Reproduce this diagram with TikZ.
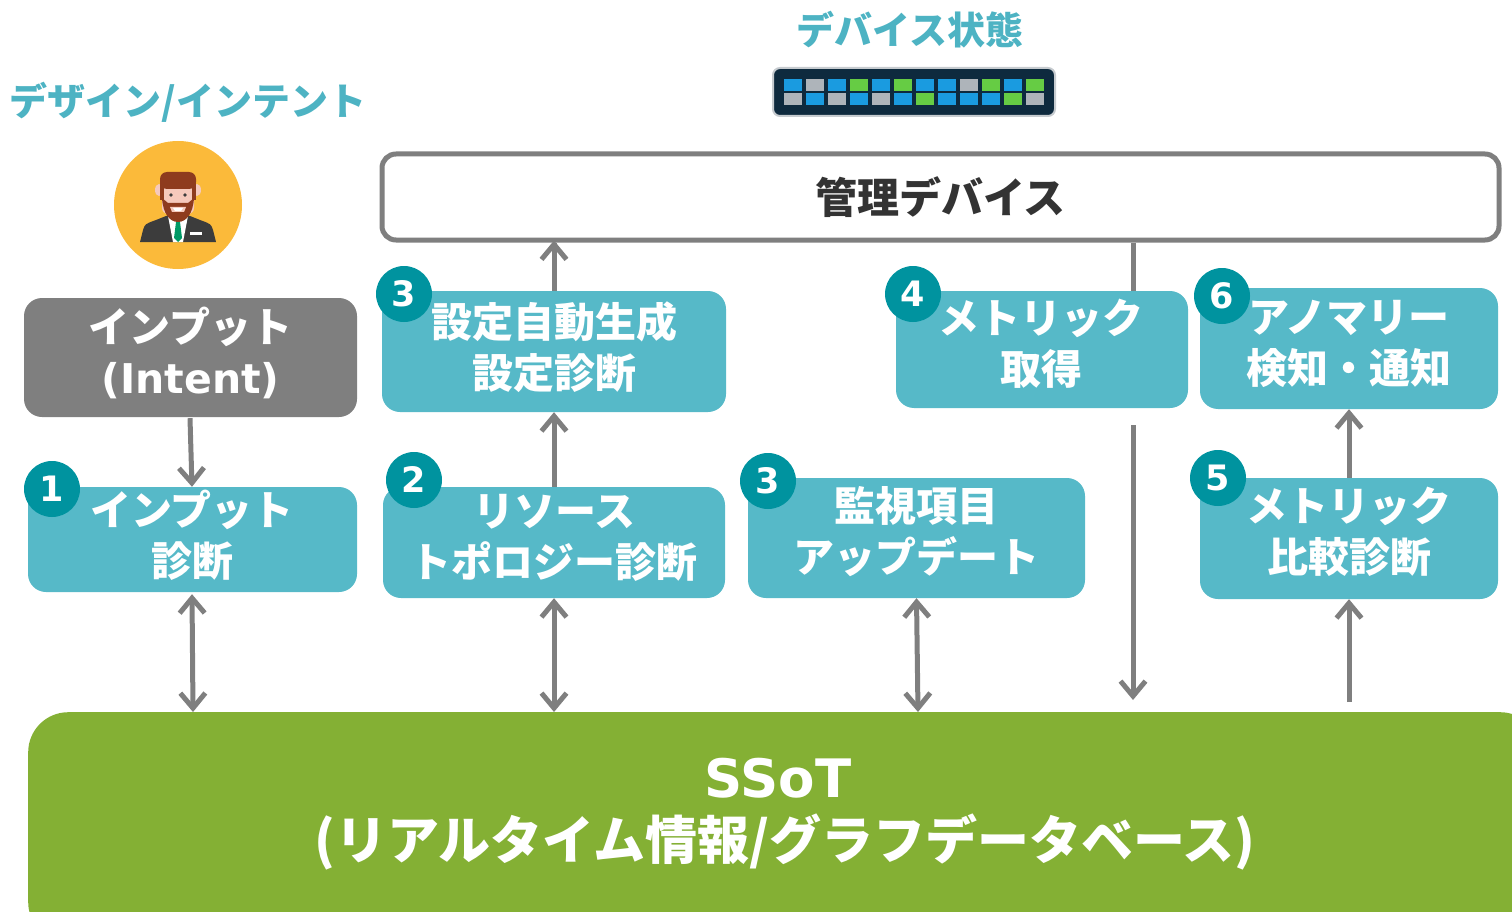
\documentclass[tikz,border=0pt]{standalone}
\usepackage{fontspec}
\newfontfamily\jp{Noto Sans CJK JP}
\newfontfamily\lat{DejaVu Sans}
\usetikzlibrary{arrows.meta}
\definecolor{tealbox}{HTML}{56B9C8}
\definecolor{tealdark}{HTML}{00939F}
\definecolor{tealtext}{HTML}{4DB3C3}
\definecolor{linegray}{HTML}{7F7F7F}
\definecolor{ssotgreen}{HTML}{84B034}
\definecolor{darktext}{HTML}{333333}
\definecolor{navy}{HTML}{0E2A3E}
\definecolor{portblue}{HTML}{1A9BE0}
\definecolor{portgreen}{HTML}{66CC44}
\definecolor{portgray}{HTML}{AEB4BA}
\definecolor{sun}{HTML}{FBBA3A}
\definecolor{hair}{HTML}{8E3B1E}
\definecolor{skin}{HTML}{F6C9BC}
\definecolor{suit}{HTML}{3C3C3C}
\tikzset{
  stepbox/.style={draw=none, fill=tealbox, rounded corners=18pt},
  boxtext/.style={text=white, font=\jp\bfseries\fontsize{41}{51}\selectfont, align=center},
  badge/.style={circle, fill=tealdark, minimum size=56pt, inner sep=0pt, text=white, font=\lat\bfseries\fontsize{35}{35}\selectfont},
  conn/.style={draw=linegray, line width=5pt},
  barb/.tip={Straight Barb[length=15pt,width=25pt,line width=5pt]},
  tip/.style={-barb},
  tips/.style={barb-barb},
  heading/.style={text=tealtext, font=\jp\bfseries\fontsize{38}{38}\selectfont},
}
\begin{document}
\begin{tikzpicture}[x=1pt,y=-1pt]
\useasboundingbox (0,0) rectangle (1512,912);
\clip (0,0) rectangle (1512,912);

% headings
\node[heading] (hdev) at (910,30) {デバイス状態};
\node[heading] (hint) at (188,102) {デザイン/インテント};

% switch icon
\draw[fill=navy, draw=portgray!70, line width=2pt, rounded corners=7pt] (773,68) rectangle (1055,116);
\foreach \c [count=\i from 0] in {portblue,portgray,portblue,portgreen,portblue,portgreen,portblue,portblue,portgray,portgreen,portblue,portgreen}
  \fill[\c] (784+22*\i,79) rectangle ++(18,12);
\foreach \c [count=\i from 0] in {portgray,portblue,portgray,portblue,portgray,portblue,portgreen,portblue,portblue,portblue,portgreen,portgray}
  \fill[\c] (784+22*\i,93) rectangle ++(18,12);

% person avatar
\fill[sun] (178,205) circle (64);
\fill[suit] (140,242) -- (143,230) .. controls (145,224) .. (156,220) -- (166,216) -- (190,216) -- (200,220) .. controls (211,224) .. (213,230) -- (216,242) -- cycle;
\fill[white] (168,216) -- (188,216) -- (183,242) -- (173,242) -- cycle;
\fill[teal!80!green] (176,222) -- (180,222) -- (182,238) -- (178,242) -- (174,238) -- cycle;
\fill[white] (190,232) rectangle (202,235);
\fill[skin] (172,206) rectangle (184,220);
\fill[skin] (159,190) ellipse (4 and 6);
\fill[skin] (197,190) ellipse (4 and 6);
\fill[skin, rounded corners=6pt] (162,178) rectangle (194,214);
\fill[hair, rounded corners=7pt] (160,172) rectangle (196,189);
\fill[hair] (160,182) rectangle (164,200);
\fill[hair] (192,182) rectangle (196,200);
\fill[hair] (162,198) .. controls (163,214) and (170,222) .. (178,222) .. controls (186,222) and (193,214) .. (194,198) -- (188,203) -- (168,203) -- cycle;
\fill[skin] (170,207) -- (186,207) -- (184,212) -- (172,212) -- cycle;
\fill[white] (173,208) -- (183,208) -- (181,211) -- (175,211) -- cycle;
\fill[suit] (171,195) circle (1.8);
\fill[suit] (185,195) circle (1.8);

% managed device box
\node[draw=linegray, line width=5pt, fill=white, rounded corners=14pt, minimum width=1117pt, minimum height=86pt, inner sep=0pt,
      text=darktext, font=\jp\bfseries\fontsize{42}{42}\selectfont] (mgmt) at (940.5,197) {管理デバイス};

% intent box
\node[fill=linegray, rounded corners=18pt, minimum width=333pt, minimum height=119pt, inner sep=0pt] (intent) at (190.5,357.5) {};
\node[boxtext] (intentt) at (190.5,353) {インプット\\\lat\bfseries (Intent)};

% step boxes
\node[stepbox, minimum width=344pt, minimum height=121pt, inner sep=0pt] (gen) at (554,351.5) {};
\node[stepbox, minimum width=292pt, minimum height=117pt, inner sep=0pt] (met) at (1042,349.5) {};
\node[stepbox, minimum width=298pt, minimum height=121pt, inner sep=0pt] (ano) at (1349,348.5) {};
\node[stepbox, minimum width=329pt, minimum height=105pt, inner sep=0pt] (inp) at (192.5,539.5) {};
\node[stepbox, minimum width=342pt, minimum height=111pt, inner sep=0pt] (res) at (554,542.5) {};
\node[stepbox, minimum width=337pt, minimum height=120pt, inner sep=0pt] (mon) at (916.5,538) {};
\node[stepbox, minimum width=298pt, minimum height=121pt, inner sep=0pt] (cmp) at (1349,538.5) {};

\node[boxtext] (gent) at (554,347) {設定自動生成\\設定診断};
\node[boxtext] (mett) at (1041,344) {メトリック\\取得};
\node[boxtext] (anot) at (1349,344) {アノマリー\\検知・通知};
\node[boxtext] (inpt) at (192,535) {インプット\\診断};
\node[boxtext] (rest) at (554,538) {リソース\\トポロジー診断};
\node[boxtext] (mont) at (916,532) {監視項目\\アップデート};
\node[boxtext] (cmpt) at (1349,532) {メトリック\\比較診断};

% step numbers
\node[badge] (b3a) at (404,294) {3};
\node[badge] (b4) at (913,294) {4};
\node[badge] (b6) at (1222,296) {6};
\node[badge] (b1) at (52,489) {1};
\node[badge] (b2) at (414,480) {2};
\node[badge] (b3b) at (768,481) {3};
\node[badge] (b5) at (1218,478) {5};

% single source of truth
\node[fill=ssotgreen, rounded corners=40pt, minimum width=1512pt, minimum height=230pt, inner sep=0pt, anchor=north west] (ssot) at (28,712) {};
\node[text=white, font=\lat\bfseries\fontsize{53}{53}\selectfont] (ssott) at (778,778) {SSoT};
\node[text=white, font=\jp\bfseries\fontsize{52}{52}\selectfont] (ssott2) at (785,842) {(リアルタイム情報/グラフデータベース)};

% connectors
\coordinate (metdown) at (1133,425);
\coordinate (metend) at (1133,700);
\coordinate (cmpstart) at (1349,702);
\draw[conn, tip] (intent.south -| 190,0) ++(0,1) coordinate (i0) (i0) -- (inp.north -| 192,0);
\draw[conn, tips] (inp.south -| 192,0) ++(0,2) coordinate (i1) (i1) -- (ssot.north -| 193,0);
\draw[conn, tip] (gen.north) -- (mgmt.south -| gen.north) ++(0,-2);
\draw[conn, tip] (res.north) -- (gen.south);
\draw[conn, tips] (res.south) -- (ssot.north -| res.south);
\draw[conn, tips] (mon.south) -- (ssot.north -| 918,0);
\draw[conn] (mgmt.south -| 1133,0) -- (met.north -| 1133,0);
\draw[conn, tip] (metdown) -- (metend);
\draw[conn, tip] (cmpstart) -- (cmp.south);
\draw[conn, tip] (cmp.north) -- (ano.south);
\end{tikzpicture}
\end{document}
